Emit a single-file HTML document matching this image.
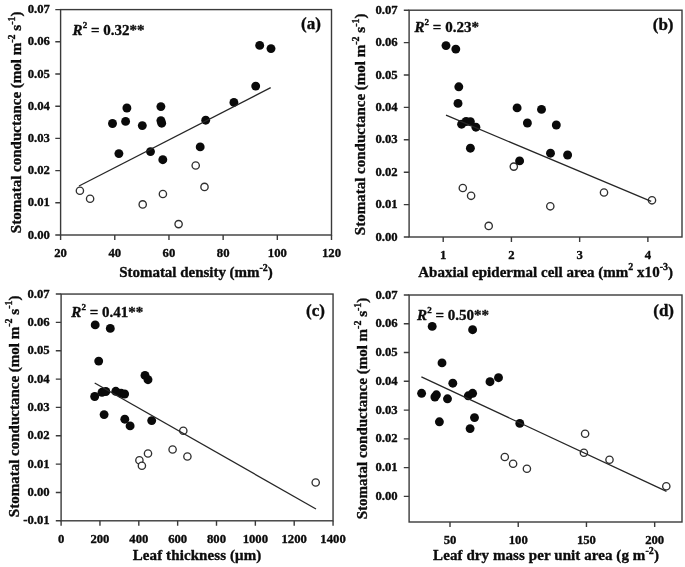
<!DOCTYPE html>
<html><head><meta charset="utf-8"><title>Figure</title>
<style>
html,body{margin:0;padding:0;background:#fff;}
body{width:685px;height:567px;overflow:hidden;}
svg{display:block;will-change:transform;filter:blur(0.45px);}
text{font-family:"Liberation Serif",serif;font-weight:bold;fill:#0c0c0c;stroke:#0c0c0c;stroke-width:0.35px;stroke-linejoin:round;}
.tk{font-size:12.7px;}
.ti{font-size:15px;}
.sup{font-size:10px;}
.r2{font-size:15px;}
.sup2{font-size:9px;}
.tag{font-size:17px;}
.ln{stroke:#3a3a3a;stroke-width:1.4;fill:none;}
.rg{stroke:#262626;stroke-width:1.3;fill:none;}
.fc{fill:#0a0a0a;}
.oc{fill:#fff;stroke:#303030;stroke-width:1.35;}
</style></head><body>
<svg width="685" height="567" viewBox="0 0 685 567">
<rect x="0" y="0" width="685" height="567" fill="#ffffff"/>
<g id="panel-a">
<rect class="ln" x="60.60" y="9.60" width="270.90" height="225.40"/>
<path class="ln" d="M55.30 9.60H60.60M55.30 41.80H60.60M55.30 74.00H60.60M55.30 106.20H60.60M55.30 138.40H60.60M55.30 170.60H60.60M55.30 202.80H60.60M55.30 235.00H60.60M60.60 235.00V240.00M114.78 235.00V240.00M168.96 235.00V240.00M223.14 235.00V240.00M277.32 235.00V240.00M331.50 235.00V240.00"/>
<text class="tk" text-anchor="end" x="49.90" y="13.20">0.07</text>
<text class="tk" text-anchor="end" x="49.90" y="45.40">0.06</text>
<text class="tk" text-anchor="end" x="49.90" y="77.60">0.05</text>
<text class="tk" text-anchor="end" x="49.90" y="109.80">0.04</text>
<text class="tk" text-anchor="end" x="49.90" y="142.00">0.03</text>
<text class="tk" text-anchor="end" x="49.90" y="174.20">0.02</text>
<text class="tk" text-anchor="end" x="49.90" y="206.40">0.01</text>
<text class="tk" text-anchor="end" x="49.90" y="238.60">0.00</text>
<text class="tk" text-anchor="middle" x="60.60" y="257.10">20</text>
<text class="tk" text-anchor="middle" x="114.78" y="257.10">40</text>
<text class="tk" text-anchor="middle" x="168.96" y="257.10">60</text>
<text class="tk" text-anchor="middle" x="223.14" y="257.10">80</text>
<text class="tk" text-anchor="middle" x="277.32" y="257.10">100</text>
<text class="tk" text-anchor="middle" x="331.50" y="257.10">120</text>
<text class="ti" text-anchor="middle" transform="translate(21.30 122.30) rotate(-90)">Stomatal conductance (mol m<tspan class="sup" dy="-6.5">-2</tspan><tspan dy="6.5"> s</tspan><tspan class="sup" dy="-6.5">-1</tspan><tspan dy="6.5">)</tspan></text>
<text class="ti" text-anchor="middle" x="196.00" y="277.00" textLength="153.6" lengthAdjust="spacing">Stomatal density (mm<tspan class="sup" dy="-6.5">-2</tspan><tspan dy="6.5">)</tspan></text>
<circle class="oc" cx="79.90" cy="190.70" r="3.65"/>
<circle class="oc" cx="90.10" cy="198.70" r="3.65"/>
<circle class="oc" cx="142.70" cy="204.40" r="3.65"/>
<circle class="oc" cx="162.90" cy="194.00" r="3.65"/>
<circle class="oc" cx="178.60" cy="224.10" r="3.65"/>
<circle class="oc" cx="195.70" cy="165.50" r="3.65"/>
<circle class="oc" cx="204.50" cy="186.90" r="3.65"/>
<circle class="fc" cx="112.50" cy="123.50" r="4.45"/>
<circle class="fc" cx="125.60" cy="121.40" r="4.45"/>
<circle class="fc" cx="126.90" cy="108.00" r="4.45"/>
<circle class="fc" cx="142.30" cy="125.60" r="4.45"/>
<circle class="fc" cx="160.90" cy="106.60" r="4.45"/>
<circle class="fc" cx="160.90" cy="120.60" r="4.45"/>
<circle class="fc" cx="161.70" cy="123.20" r="4.45"/>
<circle class="fc" cx="118.90" cy="153.60" r="4.45"/>
<circle class="fc" cx="150.50" cy="151.60" r="4.45"/>
<circle class="fc" cx="162.80" cy="159.70" r="4.45"/>
<circle class="fc" cx="200.20" cy="146.90" r="4.45"/>
<circle class="fc" cx="205.70" cy="120.20" r="4.45"/>
<circle class="fc" cx="233.90" cy="102.40" r="4.45"/>
<circle class="fc" cx="255.70" cy="86.10" r="4.45"/>
<circle class="fc" cx="259.70" cy="45.40" r="4.45"/>
<circle class="fc" cx="271.00" cy="48.60" r="4.45"/>
<path class="rg" d="M79.00 186.00L270.70 87.70"/>
<text class="r2" x="72.60" y="34.70"><tspan font-style="italic">R</tspan><tspan class="sup2" dx="0.2" dy="-6.8">2</tspan><tspan dy="6.8"> = 0.32**</tspan></text>
<text class="tag" text-anchor="end" x="320.90" y="28.90">(a)</text>
</g>
<g id="panel-b">
<rect class="ln" x="409.10" y="10.20" width="272.90" height="226.80"/>
<path class="ln" d="M403.80 10.20H409.10M403.80 42.60H409.10M403.80 75.00H409.10M403.80 107.40H409.10M403.80 139.80H409.10M403.80 172.20H409.10M403.80 204.60H409.10M403.80 237.00H409.10M443.20 237.00V242.00M511.42 237.00V242.00M579.65 237.00V242.00M647.88 237.00V242.00"/>
<text class="tk" text-anchor="end" x="397.70" y="13.80">0.07</text>
<text class="tk" text-anchor="end" x="397.70" y="46.20">0.06</text>
<text class="tk" text-anchor="end" x="397.70" y="78.60">0.05</text>
<text class="tk" text-anchor="end" x="397.70" y="111.00">0.04</text>
<text class="tk" text-anchor="end" x="397.70" y="143.40">0.03</text>
<text class="tk" text-anchor="end" x="397.70" y="175.80">0.02</text>
<text class="tk" text-anchor="end" x="397.70" y="208.20">0.01</text>
<text class="tk" text-anchor="end" x="397.70" y="240.60">0.00</text>
<text class="tk" text-anchor="middle" x="443.20" y="259.10">1</text>
<text class="tk" text-anchor="middle" x="511.42" y="259.10">2</text>
<text class="tk" text-anchor="middle" x="579.65" y="259.10">3</text>
<text class="tk" text-anchor="middle" x="647.88" y="259.10">4</text>
<text class="ti" text-anchor="middle" transform="translate(365.20 124.30) rotate(-90)">Stomatal conductance (mol m<tspan class="sup" dy="-6.5">-2</tspan><tspan dy="6.5"> s</tspan><tspan class="sup" dy="-6.5">-1</tspan><tspan dy="6.5">)</tspan></text>
<text class="ti" text-anchor="middle" x="545.60" y="276.90" textLength="254.8" lengthAdjust="spacing">Abaxial epidermal cell area (mm<tspan class="sup" dy="-6.5">2</tspan><tspan dy="6.5"> x10</tspan><tspan class="sup" dy="-6.5">-3</tspan><tspan dy="6.5">)</tspan></text>
<circle class="oc" cx="462.80" cy="188.00" r="3.65"/>
<circle class="oc" cx="471.10" cy="195.80" r="3.65"/>
<circle class="oc" cx="488.70" cy="225.90" r="3.65"/>
<circle class="oc" cx="513.80" cy="166.60" r="3.65"/>
<circle class="oc" cx="550.30" cy="206.30" r="3.65"/>
<circle class="oc" cx="604.00" cy="192.50" r="3.65"/>
<circle class="oc" cx="652.00" cy="200.30" r="3.65"/>
<circle class="fc" cx="446.00" cy="45.60" r="4.45"/>
<circle class="fc" cx="455.80" cy="49.10" r="4.45"/>
<circle class="fc" cx="458.80" cy="86.80" r="4.45"/>
<circle class="fc" cx="458.00" cy="103.40" r="4.45"/>
<circle class="fc" cx="461.60" cy="124.20" r="4.45"/>
<circle class="fc" cx="466.10" cy="121.50" r="4.45"/>
<circle class="fc" cx="470.40" cy="121.70" r="4.45"/>
<circle class="fc" cx="475.90" cy="127.20" r="4.45"/>
<circle class="fc" cx="470.40" cy="148.20" r="4.45"/>
<circle class="fc" cx="517.10" cy="107.90" r="4.45"/>
<circle class="fc" cx="527.40" cy="123.00" r="4.45"/>
<circle class="fc" cx="541.50" cy="109.40" r="4.45"/>
<circle class="fc" cx="556.30" cy="125.00" r="4.45"/>
<circle class="fc" cx="550.50" cy="153.20" r="4.45"/>
<circle class="fc" cx="567.60" cy="155.00" r="4.45"/>
<circle class="fc" cx="519.60" cy="160.90" r="4.45"/>
<path class="rg" d="M446.00 115.20L651.20 201.40"/>
<text class="r2" x="414.40" y="32.10"><tspan font-style="italic">R</tspan><tspan class="sup2" dx="0.2" dy="-6.8">2</tspan><tspan dy="6.8"> = 0.23*</tspan></text>
<text class="tag" text-anchor="end" x="673.50" y="30.00">(b)</text>
</g>
<g id="panel-c">
<rect class="ln" x="61.10" y="294.05" width="271.95" height="226.75"/>
<path class="ln" d="M55.80 294.05H61.10M55.80 322.39H61.10M55.80 350.74H61.10M55.80 379.08H61.10M55.80 407.42H61.10M55.80 435.77H61.10M55.80 464.11H61.10M55.80 492.46H61.10M55.80 520.80H61.10M61.10 520.80V525.80M99.95 520.80V525.80M138.80 520.80V525.80M177.65 520.80V525.80M216.50 520.80V525.80M255.35 520.80V525.80M294.20 520.80V525.80M333.05 520.80V525.80"/>
<text class="tk" text-anchor="end" x="49.70" y="297.65">0.07</text>
<text class="tk" text-anchor="end" x="49.70" y="325.99">0.06</text>
<text class="tk" text-anchor="end" x="49.70" y="354.34">0.05</text>
<text class="tk" text-anchor="end" x="49.70" y="382.68">0.04</text>
<text class="tk" text-anchor="end" x="49.70" y="411.02">0.03</text>
<text class="tk" text-anchor="end" x="49.70" y="439.37">0.02</text>
<text class="tk" text-anchor="end" x="49.70" y="467.71">0.01</text>
<text class="tk" text-anchor="end" x="49.70" y="496.06">0.00</text>
<text class="tk" text-anchor="end" x="49.70" y="524.40">-0.01</text>
<text class="tk" text-anchor="middle" x="61.10" y="542.90">0</text>
<text class="tk" text-anchor="middle" x="99.95" y="542.90">200</text>
<text class="tk" text-anchor="middle" x="138.80" y="542.90">400</text>
<text class="tk" text-anchor="middle" x="177.65" y="542.90">600</text>
<text class="tk" text-anchor="middle" x="216.50" y="542.90">800</text>
<text class="tk" text-anchor="middle" x="255.35" y="542.90">1000</text>
<text class="tk" text-anchor="middle" x="294.20" y="542.90">1200</text>
<text class="tk" text-anchor="middle" x="333.05" y="542.90">1400</text>
<text class="ti" text-anchor="middle" transform="translate(18.70 406.32) rotate(-90)">Stomatal conductance (mol m<tspan class="sup" dy="-6.5">-2</tspan><tspan dy="6.5"> s</tspan><tspan class="sup" dy="-6.5">-1</tspan><tspan dy="6.5">)</tspan></text>
<text class="ti" text-anchor="middle" x="197.00" y="560.20" textLength="128.6" lengthAdjust="spacing">Leaf thickness (μm)</text>
<circle class="oc" cx="183.30" cy="430.80" r="3.65"/>
<circle class="oc" cx="139.40" cy="460.30" r="3.65"/>
<circle class="oc" cx="141.90" cy="465.80" r="3.65"/>
<circle class="oc" cx="148.00" cy="453.50" r="3.65"/>
<circle class="oc" cx="172.60" cy="449.50" r="3.65"/>
<circle class="oc" cx="187.40" cy="456.50" r="3.65"/>
<circle class="oc" cx="315.70" cy="482.50" r="3.65"/>
<circle class="fc" cx="95.20" cy="324.90" r="4.45"/>
<circle class="fc" cx="110.30" cy="328.40" r="4.45"/>
<circle class="fc" cx="98.70" cy="361.10" r="4.45"/>
<circle class="fc" cx="145.00" cy="375.40" r="4.45"/>
<circle class="fc" cx="148.00" cy="379.70" r="4.45"/>
<circle class="fc" cx="94.70" cy="396.50" r="4.45"/>
<circle class="fc" cx="102.00" cy="392.30" r="4.45"/>
<circle class="fc" cx="105.80" cy="391.50" r="4.45"/>
<circle class="fc" cx="115.80" cy="391.30" r="4.45"/>
<circle class="fc" cx="121.10" cy="393.30" r="4.45"/>
<circle class="fc" cx="124.60" cy="394.00" r="4.45"/>
<circle class="fc" cx="104.10" cy="414.60" r="4.45"/>
<circle class="fc" cx="124.80" cy="419.20" r="4.45"/>
<circle class="fc" cx="130.10" cy="425.90" r="4.45"/>
<circle class="fc" cx="151.70" cy="420.60" r="4.45"/>
<path class="rg" d="M94.70 383.00L316.00 509.00"/>
<text class="r2" x="71.30" y="316.80"><tspan font-style="italic">R</tspan><tspan class="sup2" dx="0.2" dy="-6.8">2</tspan><tspan dy="6.8"> = 0.41**</tspan></text>
<text class="tag" text-anchor="end" x="324.90" y="315.70">(c)</text>
</g>
<g id="panel-d">
<rect class="ln" x="409.10" y="295.00" width="272.90" height="227.00"/>
<path class="ln" d="M403.80 295.00H409.10M403.80 323.77H409.10M403.80 352.54H409.10M403.80 381.31H409.10M403.80 410.08H409.10M403.80 438.85H409.10M403.80 467.62H409.10M403.80 496.39H409.10M450.00 522.00V527.00M518.23 522.00V527.00M586.45 522.00V527.00M654.67 522.00V527.00"/>
<text class="tk" text-anchor="end" x="397.70" y="298.60">0.07</text>
<text class="tk" text-anchor="end" x="397.70" y="327.37">0.06</text>
<text class="tk" text-anchor="end" x="397.70" y="356.14">0.05</text>
<text class="tk" text-anchor="end" x="397.70" y="384.91">0.04</text>
<text class="tk" text-anchor="end" x="397.70" y="413.68">0.03</text>
<text class="tk" text-anchor="end" x="397.70" y="442.45">0.02</text>
<text class="tk" text-anchor="end" x="397.70" y="471.22">0.01</text>
<text class="tk" text-anchor="end" x="397.70" y="499.99">0.00</text>
<text class="tk" text-anchor="middle" x="450.00" y="544.10">50</text>
<text class="tk" text-anchor="middle" x="518.23" y="544.10">100</text>
<text class="tk" text-anchor="middle" x="586.45" y="544.10">150</text>
<text class="tk" text-anchor="middle" x="654.67" y="544.10">200</text>
<text class="ti" text-anchor="middle" transform="translate(367.30 408.50) rotate(-90)">Stomatal conductance (mol m<tspan class="sup" dy="-6.5">-2</tspan><tspan dy="6.5"> s</tspan><tspan class="sup" dy="-6.5">-1</tspan><tspan dy="6.5">)</tspan></text>
<text class="ti" text-anchor="middle" x="546.00" y="560.40" textLength="225.8" lengthAdjust="spacing">Leaf dry mass per unit area (g m<tspan class="sup" dy="-6.5">-2</tspan><tspan dy="6.5">)</tspan></text>
<circle class="oc" cx="504.80" cy="457.00" r="3.65"/>
<circle class="oc" cx="513.10" cy="463.80" r="3.65"/>
<circle class="oc" cx="526.90" cy="468.70" r="3.65"/>
<circle class="oc" cx="585.10" cy="433.70" r="3.65"/>
<circle class="oc" cx="583.90" cy="452.80" r="3.65"/>
<circle class="oc" cx="609.50" cy="459.80" r="3.65"/>
<circle class="oc" cx="666.30" cy="486.20" r="3.65"/>
<circle class="fc" cx="432.20" cy="326.40" r="4.45"/>
<circle class="fc" cx="472.60" cy="329.70" r="4.45"/>
<circle class="fc" cx="442.00" cy="362.90" r="4.45"/>
<circle class="fc" cx="498.50" cy="377.70" r="4.45"/>
<circle class="fc" cx="490.00" cy="381.70" r="4.45"/>
<circle class="fc" cx="452.80" cy="383.20" r="4.45"/>
<circle class="fc" cx="421.60" cy="393.30" r="4.45"/>
<circle class="fc" cx="434.90" cy="397.00" r="4.45"/>
<circle class="fc" cx="436.40" cy="394.80" r="4.45"/>
<circle class="fc" cx="447.50" cy="398.80" r="4.45"/>
<circle class="fc" cx="468.30" cy="395.80" r="4.45"/>
<circle class="fc" cx="472.60" cy="393.30" r="4.45"/>
<circle class="fc" cx="439.40" cy="421.80" r="4.45"/>
<circle class="fc" cx="474.50" cy="417.60" r="4.45"/>
<circle class="fc" cx="470.10" cy="428.60" r="4.45"/>
<circle class="fc" cx="519.80" cy="423.40" r="4.45"/>
<path class="rg" d="M421.40 376.90L666.50 491.40"/>
<text class="r2" x="417.10" y="320.00"><tspan font-style="italic">R</tspan><tspan class="sup2" dx="0.2" dy="-6.8">2</tspan><tspan dy="6.8"> = 0.50**</tspan></text>
<text class="tag" text-anchor="end" x="674.00" y="315.70">(d)</text>
</g>
</svg>
</body></html>
